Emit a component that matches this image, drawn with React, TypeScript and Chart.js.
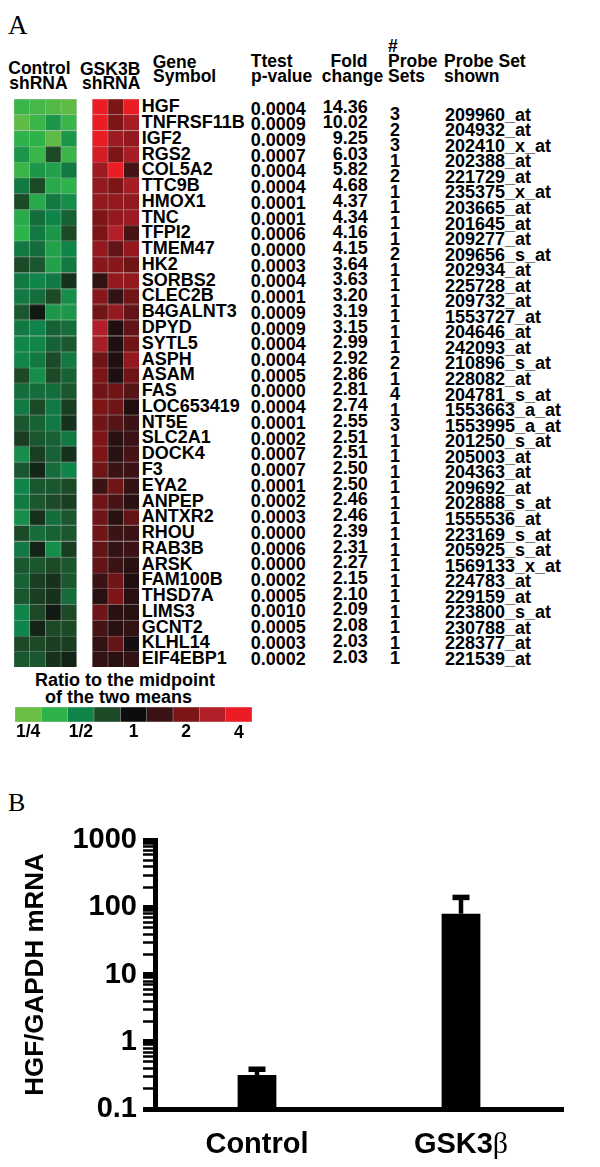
import React, { useEffect, useRef } from 'react';
import { Chart, registerables } from 'chart.js';

Chart.register(...registerables);

const SANS = '"Liberation Sans", Arial, Helvetica, sans-serif';
const SERIF = '"Liberation Serif", "Times New Roman", Times, serif';

// ---------- Panel A data ----------
const GENES = ['HGF', 'TNFRSF11B', 'IGF2', 'RGS2', 'COL5A2', 'TTC9B', 'HMOX1', 'TNC', 'TFPI2', 'TMEM47', 'HK2', 'SORBS2', 'CLEC2B', 'B4GALNT3', 'DPYD', 'SYTL5', 'ASPH', 'ASAM', 'FAS', 'LOC653419', 'NT5E', 'SLC2A1', 'DOCK4', 'F3', 'EYA2', 'ANPEP', 'ANTXR2', 'RHOU', 'RAB3B', 'ARSK', 'FAM100B', 'THSD7A', 'LIMS3', 'GCNT2', 'KLHL14', 'EIF4EBP1'];

const P_VALUES = ['0.0004', '0.0009', '0.0009', '0.0007', '0.0004', '0.0004', '0.0001', '0.0001', '0.0006', '0.0000', '0.0003', '0.0004', '0.0001', '0.0009', '0.0009', '0.0004', '0.0004', '0.0005', '0.0000', '0.0004', '0.0001', '0.0002', '0.0007', '0.0007', '0.0001', '0.0002', '0.0003', '0.0000', '0.0006', '0.0000', '0.0002', '0.0005', '0.0010', '0.0005', '0.0003', '0.0002'];

const FOLD_CHANGE = [14.36, 10.02, 9.25, 6.03, 5.82, 4.68, 4.37, 4.34, 4.16, 4.15, 3.64, 3.63, 3.20, 3.19, 3.15, 2.99, 2.92, 2.86, 2.81, 2.74, 2.55, 2.51, 2.51, 2.50, 2.50, 2.46, 2.46, 2.39, 2.31, 2.27, 2.15, 2.10, 2.09, 2.08, 2.03, 2.03];

const PROBE_COUNT = [3, 2, 3, 1, 2, 1, 1, 1, 1, 2, 1, 1, 1, 1, 1, 1, 2, 1, 4, 1, 3, 1, 1, 1, 1, 1, 1, 1, 1, 1, 1, 1, 1, 1, 1, 1];

const PROBE_SET = ['209960_at', '204932_at', '202410_x_at', '202388_at', '221729_at', '235375_x_at', '203665_at', '201645_at', '209277_at', '209656_s_at', '202934_at', '225728_at', '209732_at', '1553727_at', '204646_at', '242093_at', '210896_s_at', '228082_at', '204781_s_at', '1553663_a_at', '1553995_a_at', '201250_s_at', '205003_at', '204363_at', '209692_at', '202888_s_at', '1555536_at', '223169_s_at', '205925_s_at', '1569133_x_at', '224783_at', '229159_at', '223800_s_at', '230788_at', '228377_at', '221539_at'];

// log2 ratio to the midpoint of the two means (4 control replicates)
const CONTROL_LOG2 = [
  [-1.6, -1.7, -1.8, -1.9],
  [-1.9, -1.6, -1.2, -1.6],
  [-1.5, -1.5, -1.9, -1.2],
  [-1.2, -1.6, -0.5, -1.6],
  [-1.6, -1.2, -1.3, -0.9],
  [-0.9, -0.5, -1.4, -1.5],
  [-0.5, -1.4, -0.9, -1.1],
  [-1.4, -0.8, -1.0, -0.7],
  [-1.5, -0.9, -1.2, -0.5],
  [-0.9, -0.8, -1.3, -1.0],
  [-0.5, -0.6, -1.3, -0.9],
  [-0.9, -1.0, -0.9, -0.3],
  [-0.9, -0.8, -0.5, -1.1],
  [-0.6, -0.1, -1.2, -1.2],
  [-0.9, -1.0, -0.7, -0.8],
  [-1.0, -1.0, -0.7, -0.6],
  [-1.0, -0.9, -0.5, -0.9],
  [-0.5, -1.1, -0.5, -0.7],
  [-0.8, -0.8, -0.8, -0.6],
  [-0.9, -0.5, -0.9, -0.4],
  [-0.6, -0.7, -0.9, -0.3],
  [-0.4, -0.6, -0.7, -0.9],
  [-1.1, -0.4, -0.7, -0.3],
  [-0.6, -0.2, -0.8, -1.0],
  [-1.0, -0.6, -0.6, -0.5],
  [-0.9, -0.6, -0.5, -0.4],
  [-1.1, -0.3, -0.8, -0.6],
  [-0.5, -0.8, -0.7, -0.6],
  [-0.9, -0.2, -1.1, -0.4],
  [-0.6, -0.6, -0.5, -0.6],
  [-0.7, -0.4, -0.3, -0.6],
  [-0.6, -0.4, -0.3, -0.8],
  [-1.0, -0.5, -0.1, -0.5],
  [-1.0, -0.2, -0.5, -0.5],
  [-0.5, -0.5, -0.4, -0.4],
  [-0.6, -0.6, -0.3, -0.2],
];

// 3 GSK3B shRNA replicates
const GSK_LOG2 = [
  [2.0, 1.0, 2.0],
  [2.0, 1.0, 1.4],
  [2.0, 1.3, 1.2],
  [1.8, 1.0, 1.4],
  [1.3, 2.0, 0.6],
  [1.2, 1.0, 1.4],
  [1.2, 1.2, 1.2],
  [1.0, 1.2, 1.3],
  [1.0, 1.5, 0.6],
  [1.2, 0.8, 1.2],
  [1.1, 1.1, 0.9],
  [0.4, 1.2, 1.2],
  [1.1, 0.4, 0.9],
  [0.9, 1.2, 0.8],
  [1.5, 0.2, 0.8],
  [1.4, 0.2, 0.9],
  [0.9, 0.2, 1.2],
  [1.0, 0.2, 0.9],
  [0.9, 0.9, 0.7],
  [1.0, 0.9, 0.2],
  [0.9, 0.7, 0.5],
  [1.0, 0.3, 0.5],
  [1.0, 0.3, 0.6],
  [0.9, 0.5, 0.5],
  [0.5, 0.9, 0.4],
  [0.9, 0.6, 0.3],
  [0.9, 0.3, 0.8],
  [0.9, 0.5, 0.5],
  [0.8, 0.4, 0.5],
  [0.8, 0.5, 0.3],
  [0.5, 0.9, 0.2],
  [0.3, 1.0, 0.3],
  [0.9, 0.3, 0.3],
  [0.6, 0.3, 0.4],
  [0.4, 0.8, 0.1],
  [0.4, 0.3, 0.4],
];

// colour key: log2 values -2 ... 2 in steps of 0.5
const LEGEND_STOPS = [-2, -1.5, -1, -0.5, 0, 0.5, 1, 1.5, 2];
const LEGEND_COLORS = ['#6abd45', '#2eb34a', '#10854a', '#1c4a27', '#0d0d0d', '#3b1315', '#7d1517', '#b31f29', '#ec1c24'];
const LEGEND_LABELS = ['1/4', '', '1/2', '', '1', '', '2', '', '4'];

// ---------- Panel B data ----------
const BAR_LABELS = ['Control', 'GSK3β'];
const BAR_MEANS = [0.32, 80];
const BAR_ERR_TOP = [0.39, 140];
const Y_TICK_LABELS = [0.1, 1, 10, 100, 1000];
const Y_MINOR_MULTIPLES = [2, 3, 4, 5, 6, 7, 8, 9];

function hexToRgb(h: string) {
  const n = parseInt(h.slice(1), 16);
  return [(n >> 16) & 255, (n >> 8) & 255, n & 255];
}

function heatColor(v: number) {
  const t = Math.max(LEGEND_STOPS[0], Math.min(LEGEND_STOPS[LEGEND_STOPS.length - 1], v));
  let i = 0;
  while (i < LEGEND_STOPS.length - 2 && t > LEGEND_STOPS[i + 1]) i++;
  const f = (t - LEGEND_STOPS[i]) / (LEGEND_STOPS[i + 1] - LEGEND_STOPS[i]);
  const a = hexToRgb(LEGEND_COLORS[i]);
  const b = hexToRgb(LEGEND_COLORS[i + 1]);
  const c = a.map((x, k) => Math.round(x + (b[k] - x) * f));
  return `rgb(${c[0]},${c[1]},${c[2]})`;
}

const CELL_BORDER = 'rgba(150,150,150,0.45)';

function Heatmap() {
  const ref = useRef<HTMLCanvasElement>(null);
  useEffect(() => {
    const datasets: any[] = [];
    for (let c = 0; c < 4; c++) {
      datasets.push({
        data: GENES.map(() => [c, c + 1]),
        backgroundColor: CONTROL_LOG2.map((r) => heatColor(r[c])),
        borderColor: CELL_BORDER,
        borderWidth: 0.5,
        borderSkipped: false,
        grouped: false,
        barPercentage: 1,
        categoryPercentage: 1,
      });
    }
    for (let c = 0; c < 3; c++) {
      datasets.push({
        data: GENES.map(() => [5 + c, 6 + c]),
        backgroundColor: GSK_LOG2.map((r) => heatColor(r[c])),
        borderColor: CELL_BORDER,
        borderWidth: 0.5,
        borderSkipped: false,
        grouped: false,
        barPercentage: 1,
        categoryPercentage: 1,
      });
    }
    const chart = new Chart(ref.current as HTMLCanvasElement, {
      type: 'bar',
      data: { labels: GENES, datasets },
      options: {
        indexAxis: 'y',
        animation: false,
        responsive: true,
        maintainAspectRatio: false,
        layout: { padding: 0 },
        plugins: { legend: { display: false }, tooltip: { enabled: false } },
        scales: {
          x: { type: 'linear', min: 0, max: 8, display: false },
          y: { type: 'category', display: false, offset: true },
        },
      },
    } as any);
    return () => chart.destroy();
  }, []);
  return (
    <div style={{ position: 'absolute', left: 14, top: 99.3, width: 125.3, height: 567.7 }}>
      <canvas ref={ref} />
    </div>
  );
}

function ColorKey() {
  const ref = useRef<HTMLCanvasElement>(null);
  useEffect(() => {
    const datasets = LEGEND_COLORS.map((col, i) => ({
      data: [[i, i + 1]],
      backgroundColor: col,
      borderColor: CELL_BORDER,
      borderWidth: 0.5,
      borderSkipped: false,
      grouped: false,
      barPercentage: 1,
      categoryPercentage: 1,
    }));
    const chart = new Chart(ref.current as HTMLCanvasElement, {
      type: 'bar',
      data: { labels: ['key'], datasets },
      options: {
        indexAxis: 'y',
        animation: false,
        responsive: true,
        maintainAspectRatio: false,
        layout: { padding: 0 },
        plugins: { legend: { display: false }, tooltip: { enabled: false } },
        scales: {
          x: { type: 'linear', min: 0, max: LEGEND_COLORS.length, display: false },
          y: { type: 'category', display: false, offset: true },
        },
      },
    } as any);
    return () => chart.destroy();
  }, []);
  return (
    <div style={{ position: 'absolute', left: 15, top: 706.7, width: 237, height: 15 }}>
      <canvas ref={ref} />
    </div>
  );
}

const panelBPlugin = {
  id: 'panelBExtras',
  afterDatasetsDraw(chart: any) {
    const ctx = chart.ctx;
    const y = chart.scales.y;
    const meta = chart.getDatasetMeta(0);
    ctx.save();
    ctx.strokeStyle = '#000';
    meta.data.forEach((bar: any, i: number) => {
      const top = y.getPixelForValue(BAR_MEANS[i]);
      const cap = y.getPixelForValue(BAR_ERR_TOP[i]);
      ctx.lineWidth = 4.5;
      ctx.beginPath();
      ctx.moveTo(bar.x, top);
      ctx.lineTo(bar.x, cap);
      ctx.stroke();
      ctx.lineWidth = 5.5;
      ctx.beginPath();
      ctx.moveTo(bar.x - 8.5, cap);
      ctx.lineTo(bar.x + 8.5, cap);
      ctx.stroke();
    });
    ctx.restore();
  },
  afterDraw(chart: any) {
    const ctx = chart.ctx;
    const x = chart.scales.x;
    ctx.save();
    // category labels (β set in a serif face as in the original)
    ctx.fillStyle = '#000';
    ctx.textBaseline = 'alphabetic';
    const base = chart.chartArea.bottom + 44;
    const boldFont = `bold 29px ${SANS}`;
    const serifFont = `30px ${SERIF}`;
    BAR_LABELS.forEach((lab, i) => {
      const cx = x.getPixelForValue(i);
      const greek = lab.endsWith('β');
      const main = greek ? lab.slice(0, -1) : lab;
      ctx.font = boldFont;
      const w1 = ctx.measureText(main).width;
      let w2 = 0;
      if (greek) {
        ctx.font = serifFont;
        w2 = ctx.measureText('β').width;
      }
      const start = cx - (w1 + w2) / 2;
      ctx.font = boldFont;
      ctx.textAlign = 'left';
      ctx.fillText(main, start, base);
      if (greek) {
        ctx.font = serifFont;
        ctx.fillText('β', start + w1, base);
      }
    });
    ctx.restore();
  },
};

function BarPanel() {
  const ref = useRef<HTMLCanvasElement>(null);
  useEffect(() => {
    const chart = new Chart(ref.current as HTMLCanvasElement, {
      type: 'bar',
      data: {
        labels: BAR_LABELS,
        datasets: [
          {
            data: BAR_MEANS,
            backgroundColor: '#000',
            borderWidth: 0,
            barPercentage: 0.19,
            categoryPercentage: 1,
          },
        ],
      },
      options: {
        animation: false,
        responsive: true,
        maintainAspectRatio: false,
        layout: { padding: { top: 60, right: 37, left: 0, bottom: 0 } },
        plugins: { legend: { display: false }, tooltip: { enabled: false } },
        scales: {
          x: {
            type: 'category',
            grid: { display: false },
            border: { display: true, width: 5, color: '#000' },
            ticks: { display: false },
            afterFit: (s: any) => {
              s.height = 58;
            },
          },
          y: {
            type: 'logarithmic',
            min: 0.1,
            max: 1000,
            grid: {
              display: true,
              drawOnChartArea: false,
              drawTicks: true,
              tickLength: 12,
              color: '#000',
              tickColor: '#000',
              tickWidth: (c: any) => (c.tick && c.tick.major ? 5 : 2.5),
            },
            border: { display: true, width: 5, color: '#000' },
            afterBuildTicks: (s: any) => {
              const ticks: any[] = [];
              for (let d = 0; d < Y_TICK_LABELS.length; d++) {
                ticks.push({ value: Y_TICK_LABELS[d], major: true });
                if (d < Y_TICK_LABELS.length - 1) {
                  Y_MINOR_MULTIPLES.forEach((m) => {
                    ticks.push({ value: Number((Y_TICK_LABELS[d] * m).toPrecision(6)), major: false });
                  });
                }
              }
              s.ticks = ticks;
            },
            ticks: {
              autoSkip: false,
              padding: 6,
              color: '#000',
              font: { family: SANS, size: 29, weight: 'bold' },
              callback: (v: any) => {
                const n = Number(v);
                return Y_TICK_LABELS.some((t) => Math.abs(t - n) < 1e-9) ? String(n) : '';
              },
            },
            title: {
              display: true,
              text: 'HGF/GAPDH mRNA',
              color: '#000',
              font: { family: SANS, size: 26, weight: 'bold' },
              padding: { top: 20, bottom: 0 },
            },
            afterFit: (s: any) => {
              s.width = 155;
            },
          },
        },
      },
      plugins: [panelBPlugin],
    } as any);
    return () => chart.destroy();
  }, []);
  return (
    <div style={{ position: 'absolute', left: 0, top: 780, width: 600, height: 387 }}>
      <canvas ref={ref} />
    </div>
  );
}

type TProps = {
  x: number;
  capTop: number;
  size?: number;
  align?: 'left' | 'right' | 'center';
  serif?: boolean;
  bold?: boolean;
  children: React.ReactNode;
};

function T({ x, capTop, size = 17.5, align = 'left', serif = false, bold = true, children }: TProps) {
  const off = serif ? 0.1755 * size : 0.1305 * size;
  const tf = align === 'right' ? 'translateX(-100%)' : align === 'center' ? 'translateX(-50%)' : undefined;
  return (
    <div
      style={{
        position: 'absolute',
        left: x,
        top: capTop - off,
        fontSize: size,
        lineHeight: `${size}px`,
        fontFamily: serif ? SERIF : SANS,
        fontWeight: bold ? 'bold' : 'normal',
        whiteSpace: 'nowrap',
        transform: tf,
        color: '#000',
      }}
    >
      {children}
    </div>
  );
}

export default function App() {
  return (
    <div
      style={{
        position: 'fixed',
        left: 0,
        top: 0,
        width: 600,
        height: 1167,
        overflow: 'hidden',
        background: '#fff',
      }}
    >
      <T x={8} capTop={16.7} size={27} serif bold={false}>A</T>
      <T x={8} capTop={795} size={26} serif bold={false}>B</T>

      {/* headers */}
      <T x={8.3} capTop={62.7}>Control</T>
      <T x={9.3} capTop={77}>shRNA</T>
      <T x={80} capTop={63}>GSK3B</T>
      <T x={82} capTop={77}>shRNA</T>
      <T x={152.7} capTop={56.7}>Gene</T>
      <T x={153} capTop={70.3}>Symbol</T>
      <T x={250.7} capTop={55}>Ttest</T>
      <T x={251} capTop={70}>p-value</T>
      <T x={349} capTop={55} align="center">Fold</T>
      <T x={352.5} capTop={70} align="center">change</T>
      <T x={388} capTop={40}>#</T>
      <T x={388} capTop={55}>Probe</T>
      <T x={388} capTop={70}>Sets</T>
      <T x={444} capTop={55}>Probe Set</T>
      <T x={444} capTop={70}>shown</T>

      <Heatmap />

      {GENES.map((g, i) => (
        <React.Fragment key={g}>
          <T x={141.7} capTop={99.6 + i * 15.77} size={18}>{g}</T>
          <T x={250.7} capTop={102 + i * 15.71} size={18}>{P_VALUES[i]}</T>
          <T x={367.7} capTop={100 + i * 15.71} size={18} align="right">{FOLD_CHANGE[i].toFixed(2)}</T>
          <T x={390} capTop={107.5 + i * 15.55} size={18}>{PROBE_COUNT[i]}</T>
          <T x={445} capTop={108 + i * 15.55} size={18}>{PROBE_SET[i]}</T>
        </React.Fragment>
      ))}

      <T x={35} capTop={673.5} size={18}>Ratio to the midpoint</T>
      <T x={45} capTop={690.5} size={18}>of the two means</T>

      <ColorKey />
      {LEGEND_LABELS.map((lab, i) =>
        lab ? (
          <T key={i} x={15 + 237 * (i + 0.5) / LEGEND_LABELS.length} capTop={i === 8 ? 726.7 : 725} align="center">
            {lab}
          </T>
        ) : null
      )}

      <BarPanel />
    </div>
  );
}
